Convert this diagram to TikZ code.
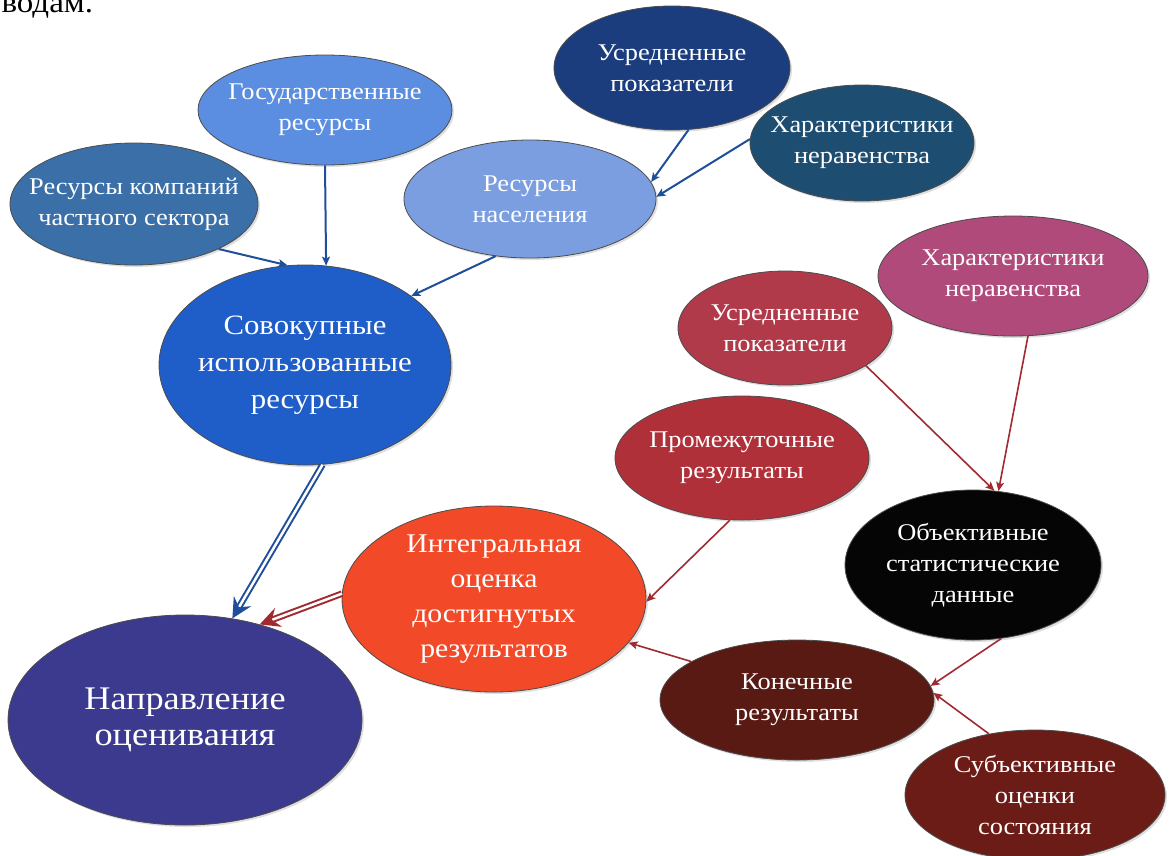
\documentclass[tikz,border=0pt]{standalone}
\usepackage{fontspec}
\setmainfont{Liberation Serif}[FakeStretch=1.1]
\usetikzlibrary{shapes.geometric,arrows.meta,shadows}
\newcommand\fsz[2]{\fontsize{#1}{#2}\selectfont}
\definecolor{cgov}{HTML}{5B8EE0}
\definecolor{cpriv}{HTML}{3A6FA8}
\definecolor{cpop}{HTML}{7B9EE0}
\definecolor{cavgT}{HTML}{1B3D7E}
\definecolor{cineqT}{HTML}{1D4E72}
\definecolor{csov}{HTML}{1F5DC8}
\definecolor{cnapr}{HTML}{3B3A8E}
\definecolor{cinteg}{HTML}{F24A28}
\definecolor{cprom}{HTML}{B0303A}
\definecolor{cavgR}{HTML}{B03A4A}
\definecolor{cineqR}{HTML}{B04A7A}
\definecolor{cobj}{HTML}{050505}
\definecolor{ckon}{HTML}{5A1A14}
\definecolor{csub}{HTML}{6B1C16}
\definecolor{barrow}{HTML}{1F4E9A}
\definecolor{rarrow}{HTML}{A02A30}
\tikzset{
  bub/.style={ellipse, draw=black!70, line width=0.8pt, text=white, align=center,
    inner xsep=-60pt, inner ysep=-45pt, font=\fsz{24}{31},
    drop shadow={shadow xshift=2pt, shadow yshift=-2pt, opacity=0.25}},
  sz/.style n args={2}{minimum width=#1, minimum height=#2},
  barr/.style={draw=barrow, line width=2pt, -{Stealth[length=9pt,width=8pt,inset=2pt]}},
  rarr/.style={draw=rarrow, line width=1.6pt, -{Stealth[length=9pt,width=8pt,inset=2pt]}},
  dbl/.style={double=white, double distance=2.5pt, line width=2pt, -{Stealth[length=20pt,width=20pt,inset=7pt]}},
}
\begin{document}
\begin{tikzpicture}[x=1pt,y=-1pt]
\useasboundingbox (0,0) rectangle (1169,855);
\node[anchor=base west, font=\fsz{30}{36}] (frag) at (-2,12) {водам.};

\node[bub, fill=cgov, sz={254pt}{110pt}] (gov) at (325,110) {Государственные\\ресурсы};
\node[bub, fill=cpriv, sz={248pt}{122pt}] (priv) at (134,204) {Ресурсы компаний\\частного сектора};
\node[bub, fill=cpop, sz={252pt}{118pt}] (pop) at (530,199) {Ресурсы\\населения};
\node[bub, fill=cavgT, sz={236pt}{124pt}] (avgT) at (672,68) {Усредненные\\показатели};
\node[bub, fill=cineqT, sz={224pt}{116pt}] (ineqT) at (862,143) {Характеристики\\неравенства};
\node[bub, fill=csov, sz={292pt}{200pt}, font=\fsz{28}{37}] (sov) at (305,365) {Совокупные\\использованные\\ресурсы};
\node[bub, fill=cineqR, sz={270pt}{120pt}] (ineqR) at (1013,276) {Характеристики\\неравенства};
\node[bub, fill=cavgR, sz={214pt}{114pt}] (avgR) at (785,328) {Усредненные\\показатели};
\node[bub, fill=cprom, sz={254pt}{124pt}] (prom) at (742,458) {Промежуточные\\результаты};
\node[bub, fill=cobj, sz={256pt}{150pt}] (obj) at (973,565) {Объективные\\статистические\\данные};
\node[bub, fill=cinteg, sz={304pt}{186pt}, font=\fsz{27}{35}] (integ) at (494,599) {Интегральная\\оценка\\достигнутых\\результатов};
\node[bub, fill=cnapr, sz={354pt}{210pt}, font=\fsz{33}{36}] (napr) at (185,720) {Направление\\оценивания};
\node[bub, fill=ckon, sz={274pt}{120pt}] (kon) at (797,700) {Конечные\\результаты};
\node[bub, fill=csub, sz={260pt}{130pt}] (sub) at (1035,795) {Субъективные\\оценки\\состояния};

\draw[barr] (priv.-28) -- (sov.100);
\draw[barr] (gov.-90) -- (sov.78);
\draw[barr] (pop.-121) -- (sov.33);
\draw[barr] (avgT.-75) -- (pop.8);
\draw[barr] (ineqT.178) -- (pop.1);
\draw[dbl, draw=barrow] (sov.-80) -- (napr.65);
\draw[dbl, draw=rarrow] (integ.178) -- (napr.52);
\draw[rarr] (prom.-101) -- (integ.-1);
\draw[rarr] (kon.160) -- (integ.-18);
\draw[rarr] (avgR.-25) -- (obj.74);
\draw[rarr] (ineqR.-76) -- (obj.71);
\draw[rarr] (obj.-69) -- (kon.6);
\draw[rarr] (sub.127) -- (kon.3);
\end{tikzpicture}
\end{document}
